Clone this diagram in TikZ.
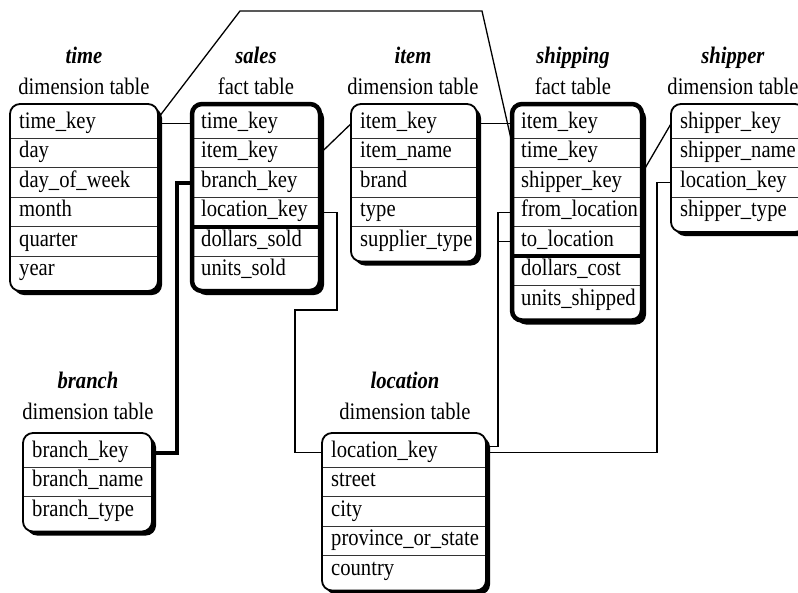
\documentclass[tikz,border=0pt]{standalone}
\usepackage{fontspec}
\setmainfont{Liberation Serif}[FakeStretch=0.87]

\tikzset{
  tabrow/.style={rectangle, anchor=west, inner xsep=9pt, inner ysep=0pt,
    minimum height=29.5pt, text height=15pt, text depth=6pt, align=left},
  tabtitle/.style={anchor=south, inner sep=0pt, align=center,
    font=\fontsize{23.7}{31}\selectfont},
  tabframe/.style={line width=1.8pt, rounded corners=10pt},
  tabframethick/.style={line width=4.5pt, rounded corners=10pt},
  tabshadow/.style={fill=black, rounded corners=10pt},
  sep/.style={line width=1.2pt, black!80},
  septhick/.style={line width=4pt},
  link/.style={line width=1.3pt},
  linkthick/.style={line width=3.5pt}
}

% #1 frame style, #2 name, #3 left, #4 top, #5 width, #6 number of rows, #7 rows
\newcommand{\dbtable}[7][tabframe]{%
  \pgfmathsetmacro\tabbot{#4+10+#6*29.5}
  \pgfmathsetmacro\tabtw{#5-18}
  \fill[tabshadow] (#3+4,#4+4) rectangle (#3+#5+4,\tabbot+4);
  \fill[white, rounded corners=10pt] (#3,#4) rectangle (#3+#5,\tabbot);
  \foreach \r [count=\k] in {#7} {
    \node[tabrow, text width=\tabtw pt] (#2-\k) at (#3, #4+5+\k*29.5-14.75) {\r};
  }
  \foreach \k in {2,...,#6} \draw[sep] (#2-\k.north west) -- (#2-\k.north east);
  \draw[#1] (#3,#4) rectangle (#3+#5,\tabbot);
}

\begin{document}
\begin{tikzpicture}[x=1pt,y=-1pt,font=\fontsize{23.7}{28}\selectfont]
  \useasboundingbox (0,0) rectangle (798,592);
  \clip (0,0) rectangle (798,592);

  % tables
  \dbtable{time}{10}{104}{148}{6}{time\_key, day, day\_of\_week, month, quarter, year}
  \dbtable[tabframethick]{sales}{192}{104}{128}{6}{time\_key, item\_key, branch\_key, location\_key, dollars\_sold, units\_sold}
  \draw[septhick] (sales-5.north west) -- (sales-5.north east);
  \dbtable{item}{351}{104}{126}{5}{item\_key, item\_name, brand, type, supplier\_type}
  \dbtable[tabframethick]{ship}{512}{104}{130}{7}{item\_key, time\_key, shipper\_key, from\_location, to\_location, dollars\_cost, units\_shipped}
  \draw[septhick] (ship-6.north west) -- (ship-6.north east);
  \dbtable{shipper}{671}{104}{134}{4}{shipper\_key, shipper\_name, location\_key, shipper\_type}
  \dbtable{branch}{23}{433}{129}{3}{branch\_key, branch\_name, branch\_type}
  \dbtable{loc}{322}{433}{164}{5}{location\_key, street, city, province\_or\_state, country}

  % titles
  \node[tabtitle] (time-title) at (84,95) {\textbf{\textit{time}}\\dimension table};
  \node[tabtitle] (sales-title) at (256,95) {\textbf{\textit{sales}}\\fact table};
  \node[tabtitle] (item-title) at (413,95) {\textbf{\textit{item}}\\dimension table};
  \node[tabtitle] (ship-title) at (573,95) {\textbf{\textit{shipping}}\\fact table};
  \node[tabtitle] (shipper-title) at (733,95) {\textbf{\textit{shipper}}\\dimension table};
  \node[tabtitle] (branch-title) at (88,420) {\textbf{\textit{branch}}\\dimension table};
  \node[tabtitle] (loc-title) at (405,420) {\textbf{\textit{location}}\\dimension table};

  % keys
  \draw[link] (time-1.east) -- (sales-1.west);
  \draw[link] ([yshift=6pt]time-1.east) -- (240,11) -- (482,11) -- ([yshift=10pt]ship-2.west);
  \draw[link] (sales-2.east) -- (item-1.west);
  \draw[linkthick] (sales-3.west) -- ++(-15,0) |- (branch-1.east);
  \draw[link] (sales-4.east) -| (337,310) -- (295,310) |- (loc-1.west);
  \draw[link] (item-1.east) -- (ship-1.west);
  \draw[link] ([yshift=10pt]ship-3.east) -- (shipper-1.west);
  \draw[link] (ship-4.west) -- ++(-14,0) |- ([yshift=6pt]loc-1.east);
  \draw[link] (ship-5.west) -- ++(-14,0);
  \draw[link] (shipper-3.west) -- ++(-14,0) |- (loc-1.east);
\end{tikzpicture}
\end{document}
